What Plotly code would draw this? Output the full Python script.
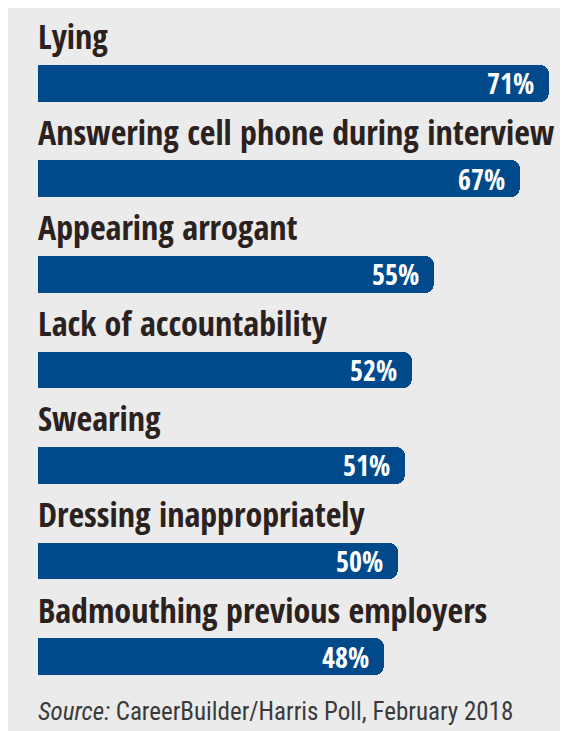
import plotly.graph_objects as go

categories = [
    "Lying",
    "Answering cell phone during interview",
    "Appearing arrogant",
    "Lack of accountability",
    "Swearing",
    "Dressing inappropriately",
    "Badmouthing previous employers",
]
values = [71, 67, 55, 52, 51, 50, 48]
value_labels = [f"{v}%" for v in values]
source_italic = "Source:"
source_text = " CareerBuilder/Harris Poll, February 2018"

BAR = "#004a8c"
LABEL = "#2b221f"
PANEL = "#ebebeb"
FONT = "Open Sans Condensed, Roboto Condensed, sans-serif"
FONT_REG = "Roboto Condensed, sans-serif"

fig = go.Figure()
# main bars with rounded ends
fig.add_trace(go.Bar(
    y=categories, x=values, orientation="h",
    marker=dict(color=BAR, cornerradius=9, line=dict(width=0)),
    width=0.387, hoverinfo="skip", showlegend=False,
))
# square-off the left ends
fig.add_trace(go.Bar(
    y=categories, x=[v / 2 for v in values], orientation="h",
    marker=dict(color=BAR, line=dict(width=0)),
    width=0.387, hoverinfo="skip", showlegend=False,
))

annotations = []
for c, v, t in zip(categories, values, value_labels):
    annotations.append(dict(
        x=0, y=c, xref="x", yref="y", text=f"<b>{c}</b>",
        xanchor="left", yanchor="middle", yshift=47, xshift=-2,
        showarrow=False, font=dict(family=FONT, size=34, color=LABEL),
    ))
    annotations.append(dict(
        x=v, y=c, xref="x", yref="y", text=f"<b>{t}</b>",
        xanchor="right", yanchor="middle", xshift=-13, yshift=0,
        showarrow=False, font=dict(family=FONT, size=28, color="white"),
    ))
annotations.append(dict(
    x=0, y=0, xref="x", yref="paper",
    text=f"<i>{source_italic}</i>{source_text}",
    xanchor="left", yanchor="bottom", yshift=3, xshift=-2,
    showarrow=False, font=dict(family=FONT_REG, size=25, color="#3a3a3a"),
))

fig.update_layout(
    width=568, height=731,
    margin=dict(l=0, r=8, t=0, b=8),
    paper_bgcolor=PANEL,
    plot_bgcolor=PANEL,
    barmode="overlay",
    bargap=0,
    annotations=annotations,
    xaxis=dict(range=[-30 / 7.2, 530 / 7.2], visible=False, fixedrange=True),
    yaxis=dict(range=[6.78, -0.79], visible=False, fixedrange=True,
               categoryorder="array", categoryarray=categories),
)

fig.write_html(
    "out.html",
    config={"displayModeBar": False},
    post_script="document.documentElement.style.overflow='hidden';document.body.style.overflow='hidden';",
)
